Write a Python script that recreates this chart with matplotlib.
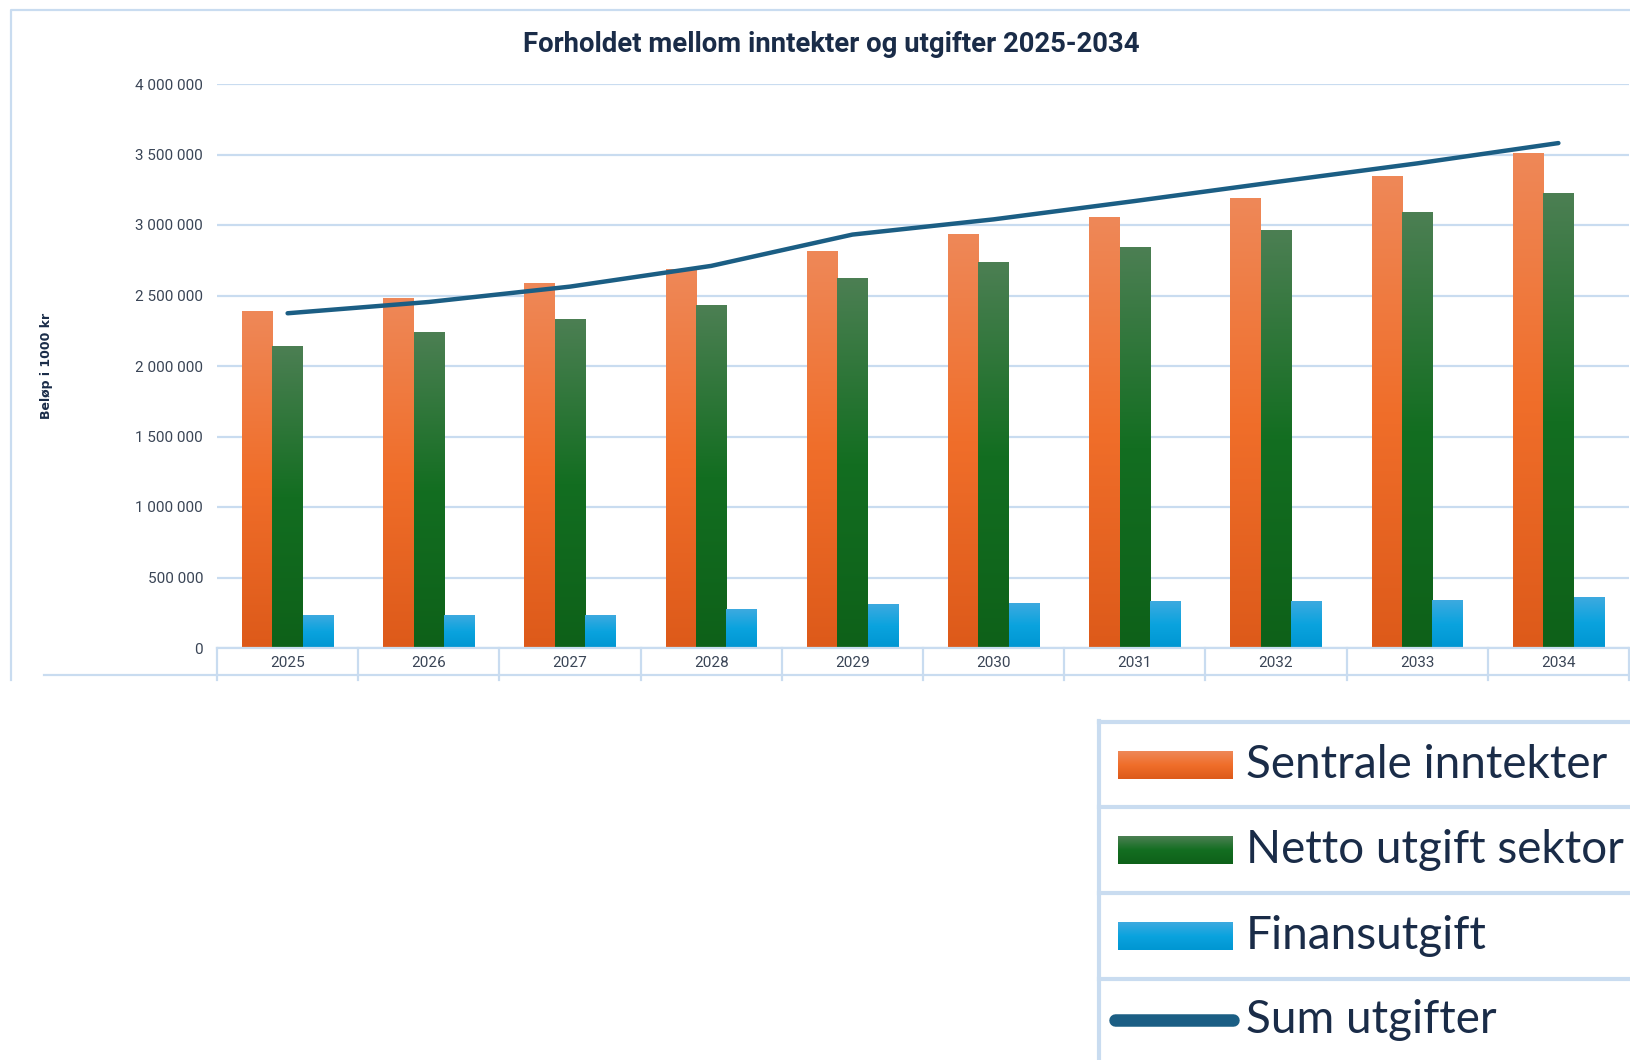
import numpy as np
import matplotlib
matplotlib.use("Agg")
import matplotlib.pyplot as plt
from matplotlib.colors import LinearSegmentedColormap
from matplotlib.lines import Line2D
from matplotlib.transforms import blended_transform_factory

years = ["2025", "2026", "2027", "2028", "2029", "2030", "2031", "2032", "2033", "2034"]
sentrale_inntekter = [2388000, 2478000, 2585000, 2681000, 2809000, 2932000, 3055000, 3189000, 3345000, 3508000]
netto_utgift_sektor = [2138000, 2235000, 2332000, 2431000, 2622000, 2733000, 2842000, 2958000, 3088000, 3222000]
finansutgift = [234000, 229000, 234000, 274000, 305000, 319000, 331000, 331000, 338000, 359000]
sum_utgifter = [2374000, 2454000, 2563000, 2710000, 2932000, 3040000, 3170000, 3305000, 3437000, 3581000]
labels = ["Sentrale inntekter", "Netto utgift sektor", "Finansutgift", "Sum utgifter"]
yticks = [0, 500000, 1000000, 1500000, 2000000, 2500000, 3000000, 3500000, 4000000]

# gradient stops, bottom -> top
orange = ["#DD5A1A", "#F06E2A", "#EE8858"]
green = ["#0E6119", "#136E21", "#4C7F53"]
blue = ["#0096D2", "#0AA3DE", "#3DAAE0"]
line_col = "#1B5E84"
grid_col = "#C9DCF0"
text_col = "#1A2C48"
tick_col = "#3A4556"

narrow = ["Liberation Sans Narrow", "Roboto", "DejaVu Sans"]

W, H = 1631, 1060
fig = plt.figure(figsize=(W / 100, H / 100), dpi=100)


def fx(px):
    return px / W


def fy(py):
    return 1 - py / H


def fig_line(xs, ys, **kw):
    fig.add_artist(Line2D([fx(v) for v in xs], [fy(v) for v in ys],
                          transform=fig.transFigure, **kw))


def gradient_bars(ax, bars, stops):
    cmap = LinearSegmentedColormap.from_list("g", stops)
    grad = np.linspace(0, 1, 256).reshape(-1, 1)
    for b in bars:
        x, w, h = b.get_x(), b.get_width(), b.get_height()
        ax.imshow(grad, extent=[x, x + w, 0, h], origin="lower", cmap=cmap,
                  aspect="auto", zorder=2, interpolation="bilinear")
        b.set_facecolor("none")
        b.set_edgecolor("none")


ax = fig.add_axes([fx(217), fy(648), fx(1629) - fx(217), fy(84) - fy(648)])
x = np.arange(len(years))
bw = 0.215
b1 = ax.bar(x - bw, sentrale_inntekter, bw, zorder=2)
b2 = ax.bar(x, netto_utgift_sektor, bw, zorder=2)
b3 = ax.bar(x + bw, finansutgift, bw, zorder=2)
gradient_bars(ax, b1, orange)
gradient_bars(ax, b2, green)
gradient_bars(ax, b3, blue)
ax.plot(x, sum_utgifter, color=line_col, lw=3.2, solid_capstyle="round", zorder=3)

ax.set_xlim(-0.5, len(years) - 0.5)
ax.set_ylim(0, 4000000)
ax.set_yticks(yticks)
ax.set_yticklabels([f"{v:,}".replace(",", " ") for v in yticks],
                   fontsize=11, color=tick_col, family=narrow)
ax.set_xticks(x)
ax.set_xticklabels(years, fontsize=11, color=tick_col, family=narrow)
ax.tick_params(axis="both", length=0)
ax.tick_params(axis="y", pad=10)
ax.tick_params(axis="x", pad=6)
ax.grid(axis="y", color=grid_col, lw=1.6, zorder=0)
for s in ["top", "right", "left"]:
    ax.spines[s].set_visible(False)
ax.spines["bottom"].set_color(grid_col)
ax.spines["bottom"].set_linewidth(1.6)

# category separators under the axis
tr = blended_transform_factory(ax.transData, ax.transAxes)
for k in range(len(years) + 1):
    ax.plot([k - 0.5, k - 0.5], [0, -32 / 564], transform=tr, color=grid_col,
            lw=1.6, clip_on=False)

# outer chart frame
fig_line([11.5, 11.5, W + 5], [680, 10, 10], color=grid_col, lw=1.6)
fig_line([44, W + 5], [675, 675], color=grid_col, lw=1.6)

fig.text(fx(831), fy(44), "Forholdet mellom inntekter og utgifter 2025-2034",
         ha="center", va="center", fontsize=19.8, fontweight="bold",
         color=text_col, family=narrow)
fig.text(fx(47), fy(366), "Beløp i 1000 kr", rotation=90, ha="center",
         va="center", fontsize=9, fontweight="bold", color=text_col)

# legend box
lax = fig.add_axes([fx(1097), 0, 1 - fx(1097), fy(721)])
lw_box = 3
lax.plot([1099, 1099], [721, H], color=grid_col, lw=lw_box, clip_on=False)
for yy in [722, 807, 893, 979]:
    lax.plot([1099, W], [yy, yy], color=grid_col, lw=lw_box, clip_on=False)

row_y = [765, 850, 936, 1020]
for i, stops in enumerate([orange, green, blue]):
    cmap = LinearSegmentedColormap.from_list("g", stops)
    grad = np.linspace(0, 1, 64).reshape(-1, 1)
    lax.imshow(grad, extent=[1118, 1233, row_y[i] + 14, row_y[i] - 14],
               origin="lower", cmap=cmap, aspect="auto", zorder=2)
lax.set_xlim(1097, W)
lax.set_ylim(H, 721)
lax.axis("off")
lax.plot([1115, 1233], [row_y[3], row_y[3]], color=line_col, lw=9,
         solid_capstyle="round")
for i, lab in enumerate(labels):
    lax.text(1246, row_y[i], lab, ha="left", va="center", fontsize=33,
             color=text_col, family=["Lato", "DejaVu Sans"])

fig.savefig("out.png", dpi=100)
